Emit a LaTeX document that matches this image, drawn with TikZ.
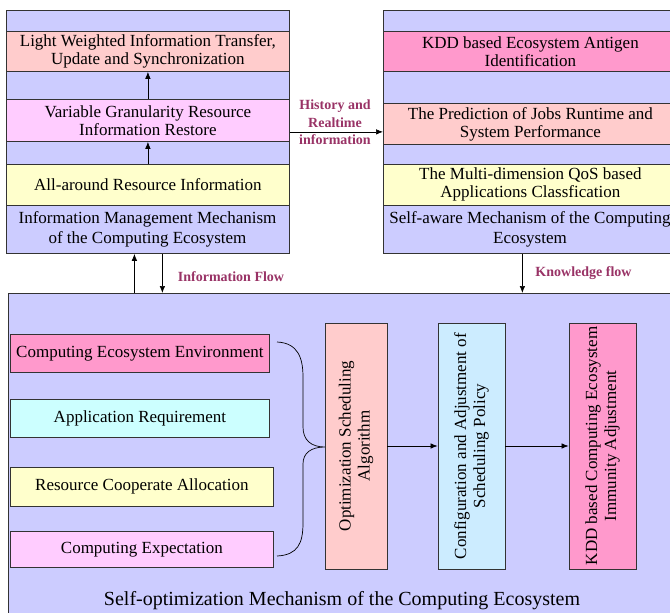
\documentclass[tikz,border=0pt]{standalone}
\usepackage{fontspec}
\setmainfont{Liberation Serif}
\usetikzlibrary{arrows.meta,calc}
\definecolor{PanelClr}{RGB}{204,204,255}
\definecolor{SalmonClr}{RGB}{255,204,204}
\definecolor{LilacClr}{RGB}{255,204,255}
\definecolor{YellowClr}{RGB}{255,255,204}
\definecolor{MagentaClr}{RGB}{255,153,204}
\definecolor{CyanClr}{RGB}{204,255,255}
\definecolor{SkyClr}{RGB}{204,236,255}
\definecolor{LabelClr}{RGB}{153,51,102}

\tikzset{
  panel/.style={draw=black!80,line width=0.8pt,fill=PanelClr,anchor=north west,inner sep=0pt},
  band/.style={draw=black!80,line width=0.8pt,anchor=north west,minimum width=283pt,inner sep=0pt,
    align=center,font=\fontsize{17}{18}\selectfont},
  inbox/.style={band},
  vbox/.style={draw=black!80,line width=0.8pt,rotate=90,minimum width=246pt,inner sep=1pt,
    align=center,font=\fontsize{17}{19}\selectfont},
  caption/.style={align=center,inner sep=0pt,font=\fontsize{17}{20}\selectfont},
  flow/.style={line width=0.7pt,-{Latex[length=7pt,width=5.5pt]}},
  flowlbl/.style={text=LabelClr,align=center,inner sep=0pt,font=\bfseries\fontsize{14}{17.5}\selectfont},
  brace/.style={line width=0.7pt}
}

\begin{document}
\begin{tikzpicture}[x=1pt,y=-1pt]
\useasboundingbox (0,0) rectangle (670,613);

% information management
\node[panel,minimum width=283pt,minimum height=243pt] (IMpanel) at (6,10) {};
\node[band,fill=SalmonClr,minimum height=40pt] (LWband) at (6,31) {Light Weighted Information Transfer,\\Update and Synchronization};
\node[band,fill=LilacClr,minimum height=42pt] (VGband) at (6,99) {Variable Granularity Resource\\Information Restore};
\node[band,fill=YellowClr,minimum height=41pt] (ARband) at (6,164) {All-around Resource Information};
\node[caption] (IMlabel) at (147.5,229.5) {Information Management Mechanism\\of the Computing Ecosystem};
\draw[flow] (ARband) -- (VGband);
\draw[flow] (VGband) -- (LWband);

% self-aware
\node[panel,minimum width=294pt,minimum height=243pt] (SApanel) at (383,10) {};
\node[band,fill=MagentaClr,minimum width=294pt,minimum height=40pt] (KDband) at (383,31) {KDD based Ecosystem Antigen\\Identification};
\node[band,fill=SalmonClr,minimum width=294pt,minimum height=41pt] (PRband) at (383,103) {The Prediction of Jobs Runtime and\\System Performance};
\node[band,fill=YellowClr,minimum width=294pt,minimum height=41pt] (MQband) at (383,164) {The Multi-dimension QoS based\\Applications Classfication};
\node[caption] (SAlabel) at (530,229.5) {Self-aware Mechanism of the Computing\\Ecosystem};

\draw[flow] (IMpanel) -- (SApanel);
\node[flowlbl] (HRlabel) at (335,122.5) {History and\\Realtime\\information};

% self-optimization
\node[panel,minimum width=669pt,minimum height=330pt] (SOpanel) at (8,293) {};
\node[caption,font=\fontsize{20}{22}\selectfont] (SOlabel) at (342,601) {Self-optimization Mechanism of the Computing Ecosystem};

\coordinate (upFlow) at ([xshift=-13.5pt]IMpanel.south);
\coordinate (downFlow) at ([xshift=14.5pt]IMpanel.south);
\coordinate (knowFlow) at ([xshift=-8pt]SApanel.south);
\draw[flow] (upFlow |- SOpanel.north) -- (upFlow);
\draw[flow] (downFlow) -- (downFlow |- SOpanel.north);
\draw[flow] (knowFlow) -- (knowFlow |- SOpanel.north);
\node[flowlbl] (IFlabel) at (231,277) {Information Flow};
\node[flowlbl] (KFlabel) at (583.5,273) {Knowledge flow};

\node[inbox,fill=MagentaClr,minimum width=259pt,minimum height=38pt] (CEbox) at (10,334) {Computing Ecosystem Environment};
\node[inbox,fill=CyanClr,minimum width=259pt,minimum height=38pt] (AQbox) at (10,399) {Application Requirement};
\node[inbox,fill=YellowClr,minimum width=263pt,minimum height=39pt] (RCbox) at (10,467) {Resource Cooperate Allocation};
\node[inbox,fill=LilacClr,minimum width=263pt,minimum height=36pt] (CXbox) at (10,531) {Computing Expectation};

\coordinate (braceTop) at (277,342);
\coordinate (braceTip) at (325,447);
\coordinate (braceBot) at (277,556);
\draw[brace] (braceTop) .. controls (298,343) and (303,358) .. (303,377) -- (303,427)
  .. controls (303,440) and (311,447) .. (braceTip)
  .. controls (311,447) and (303,453) .. (303,464) -- (303,523)
  .. controls (303,543) and (298,555) .. (braceBot);

\node[vbox,fill=SalmonClr,minimum height=62pt] (OSbox) at (356,446) {Optimization Scheduling\\Algorithm};
\node[vbox,fill=SkyClr,minimum height=67pt] (CAbox) at (471.5,446) {Configuration and Adjustment of\\Scheduling Policy};
\node[vbox,fill=MagentaClr,minimum height=67pt] (KIbox) at (602.5,446) {KDD based Computing Ecosystem\\Immunity Adjustment};
\draw[flow] (OSbox) -- (CAbox);
\draw[flow] (CAbox) -- (KIbox);

\end{tikzpicture}
\end{document}
